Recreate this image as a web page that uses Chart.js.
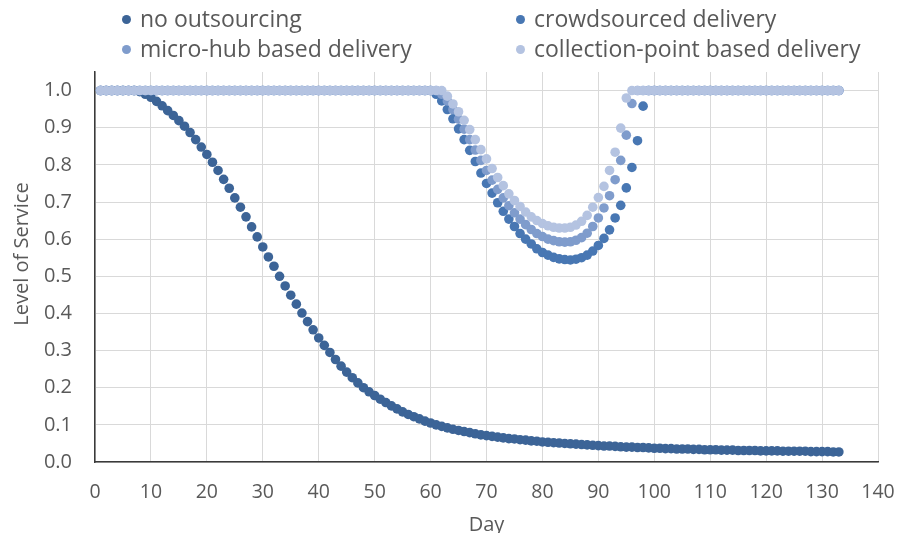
<!DOCTYPE html>
<html>
<head>
<meta charset="utf-8">
<script src="https://cdn.jsdelivr.net/npm/chart.js@4.4.1/dist/chart.umd.min.js"></script>
<style>
  html, body { margin: 0; padding: 0; background: #fff; overflow: hidden; }
  #wrap { position: relative; width: 897px; height: 545px; }
  #legend {
    position: absolute; left: 122px; top: 3px;
    display: grid; grid-template-columns: 394px auto; grid-auto-rows: 30px;
    font-family: 'Open Sans', sans-serif; font-size: 23px; color: #595959;
  }
  .item { display: flex; align-items: center; white-space: nowrap; }
  .dot { width: 9px; height: 9px; border-radius: 50%; margin: 3px 9px 0 0; }
  #ytitle {
    position: absolute; left: 21px; top: 254px; width: 200px; margin-left: -100px;
    text-align: center; line-height: 24px; margin-top: -12px;
    transform: rotate(-90deg);
    font-family: 'Open Sans', sans-serif; font-size: 20px; color: #595959;
    white-space: nowrap;
  }
</style>
</head>
<body>
<div id="wrap">
  <canvas id="chart" width="897" height="545"></canvas>
  <div id="legend"></div>
  <div id="ytitle">Level of Service</div>
</div>
<script>
const days = [
  1, 2, 3, 4, 5, 6, 7, 8, 9, 10,
  11, 12, 13, 14, 15, 16, 17, 18, 19, 20,
  21, 22, 23, 24, 25, 26, 27, 28, 29, 30,
  31, 32, 33, 34, 35, 36, 37, 38, 39, 40,
  41, 42, 43, 44, 45, 46, 47, 48, 49, 50,
  51, 52, 53, 54, 55, 56, 57, 58, 59, 60,
  61, 62, 63, 64, 65, 66, 67, 68, 69, 70,
  71, 72, 73, 74, 75, 76, 77, 78, 79, 80,
  81, 82, 83, 84, 85, 86, 87, 88, 89, 90,
  91, 92, 93, 94, 95, 96, 97, 98, 99, 100,
  101, 102, 103, 104, 105, 106, 107, 108, 109, 110,
  111, 112, 113, 114, 115, 116, 117, 118, 119, 120,
  121, 122, 123, 124, 125, 126, 127, 128, 129, 130,
  131, 132, 133
];

const noOutsourcing = [
  1, 1, 1, 1, 1, 1, 1, 0.997, 0.990, 0.982,
  0.971, 0.959, 0.946, 0.933, 0.919, 0.904, 0.887, 0.868, 0.848, 0.828,
  0.807, 0.785, 0.761, 0.737, 0.711, 0.686, 0.660, 0.633, 0.606, 0.579,
  0.552, 0.527, 0.500, 0.474, 0.449, 0.425, 0.401, 0.378, 0.356, 0.334,
  0.314, 0.295, 0.276, 0.258, 0.242, 0.227, 0.213, 0.200, 0.189, 0.179,
  0.169, 0.160, 0.151, 0.143, 0.135, 0.128, 0.122, 0.116, 0.110, 0.105,
  0.100, 0.096, 0.092, 0.088, 0.085, 0.082, 0.079, 0.076, 0.073, 0.071,
  0.069, 0.067, 0.065, 0.063, 0.062, 0.060, 0.059, 0.057, 0.056, 0.054,
  0.053, 0.052, 0.051, 0.050, 0.049, 0.048, 0.047, 0.046, 0.045, 0.044,
  0.043, 0.043, 0.042, 0.041, 0.040, 0.040, 0.039, 0.039, 0.038, 0.037,
  0.037, 0.036, 0.036, 0.035, 0.035, 0.035, 0.034, 0.034, 0.033, 0.033,
  0.033, 0.032, 0.032, 0.032, 0.031, 0.031, 0.031, 0.031, 0.030, 0.030,
  0.030, 0.030, 0.029, 0.029, 0.029, 0.029, 0.029, 0.028, 0.028, 0.028,
  0.028, 0.027, 0.027
];

const crowdsourced = [
  1, 1, 1, 1, 1, 1, 1, 1, 1, 1,
  1, 1, 1, 1, 1, 1, 1, 1, 1, 1,
  1, 1, 1, 1, 1, 1, 1, 1, 1, 1,
  1, 1, 1, 1, 1, 1, 1, 1, 1, 1,
  1, 1, 1, 1, 1, 1, 1, 1, 1, 1,
  1, 1, 1, 1, 1, 1, 1, 1, 1, 1,
  0.990, 0.972, 0.949, 0.924, 0.897, 0.868, 0.839, 0.809, 0.778, 0.750,
  0.724, 0.698, 0.675, 0.654, 0.634, 0.615, 0.600, 0.587, 0.574, 0.564,
  0.557, 0.551, 0.547, 0.545, 0.544, 0.546, 0.550, 0.557, 0.568, 0.583,
  0.602, 0.625, 0.657, 0.691, 0.738, 0.793, 0.865, 0.958, 1, 1,
  1, 1, 1, 1, 1, 1, 1, 1, 1, 1,
  1, 1, 1, 1, 1, 1, 1, 1, 1, 1,
  1, 1, 1, 1, 1, 1, 1, 1, 1, 1,
  1, 1, 1
];

const microHub = [
  1, 1, 1, 1, 1, 1, 1, 1, 1, 1,
  1, 1, 1, 1, 1, 1, 1, 1, 1, 1,
  1, 1, 1, 1, 1, 1, 1, 1, 1, 1,
  1, 1, 1, 1, 1, 1, 1, 1, 1, 1,
  1, 1, 1, 1, 1, 1, 1, 1, 1, 1,
  1, 1, 1, 1, 1, 1, 1, 1, 1, 1,
  1, 0.990, 0.972, 0.949, 0.923, 0.896, 0.868, 0.840, 0.812, 0.785,
  0.759, 0.734, 0.711, 0.690, 0.671, 0.654, 0.639, 0.626, 0.615, 0.607,
  0.600, 0.596, 0.593, 0.592, 0.593, 0.597, 0.604, 0.616, 0.634, 0.657,
  0.684, 0.717, 0.760, 0.812, 0.880, 0.965, 1, 1, 1, 1,
  1, 1, 1, 1, 1, 1, 1, 1, 1, 1,
  1, 1, 1, 1, 1, 1, 1, 1, 1, 1,
  1, 1, 1, 1, 1, 1, 1, 1, 1, 1,
  1, 1, 1
];

const collectionPoint = [
  1, 1, 1, 1, 1, 1, 1, 1, 1, 1,
  1, 1, 1, 1, 1, 1, 1, 1, 1, 1,
  1, 1, 1, 1, 1, 1, 1, 1, 1, 1,
  1, 1, 1, 1, 1, 1, 1, 1, 1, 1,
  1, 1, 1, 1, 1, 1, 1, 1, 1, 1,
  1, 1, 1, 1, 1, 1, 1, 1, 1, 1,
  1, 1, 0.985, 0.964, 0.943, 0.920, 0.895, 0.868, 0.841, 0.816,
  0.790, 0.766, 0.744, 0.722, 0.704, 0.688, 0.673, 0.660, 0.650, 0.642,
  0.636, 0.632, 0.630, 0.630, 0.632, 0.638, 0.648, 0.664, 0.686, 0.712,
  0.742, 0.785, 0.834, 0.899, 0.980, 1, 1, 1, 1, 1,
  1, 1, 1, 1, 1, 1, 1, 1, 1, 1,
  1, 1, 1, 1, 1, 1, 1, 1, 1, 1,
  1, 1, 1, 1, 1, 1, 1, 1, 1, 1,
  1, 1, 1
];

const seriesNames = ['no outsourcing', 'crowdsourced delivery', 'micro-hub based delivery', 'collection-point based delivery'];
const seriesData = [noOutsourcing, crowdsourced, microHub, collectionPoint];
const seriesColors = ['#3c6497', '#4877b3', '#7f9ccc', '#b4c3e1'];

const textColor = '#595959';
const font = "'Open Sans', sans-serif";

// legend as plain html, two columns like the original
const legend = document.getElementById('legend');
seriesNames.forEach(function(name, i) {
    const item = document.createElement('div');
    item.className = 'item';
    item.innerHTML = '<span class="dot" style="background:' + seriesColors[i] + '"></span>' + name;
    legend.appendChild(item);
});

const datasets = seriesData.map(function(values, i) {
    return {
        label: seriesNames[i],
        data: values.map(function(v, j) { return { x: days[j], y: v }; }),
        backgroundColor: seriesColors[i],
        borderColor: seriesColors[i],
        borderWidth: 0,
        pointRadius: 4.8,
        pointHoverRadius: 4.8,
        order: seriesData.length - i   // later series drawn on top
    };
});

new Chart(document.getElementById('chart').getContext('2d'), {
    type: 'scatter',
    data: { datasets: datasets },
    options: {
        responsive: false,
        animation: false,
        layout: { padding: { top: 72, right: 19, left: 0, bottom: 0 } },
        plugins: {
            legend: { display: false },
            tooltip: { enabled: false }
        },
        scales: {
            x: {
                type: 'linear',
                min: 0,
                max: 140,
                afterFit: function(scale) {
                    scale.height = 83;
                    scale.paddingLeft = 0;
                    scale.paddingRight = 0;
                },
                ticks: {
                    stepSize: 10,
                    padding: 19,
                    color: textColor,
                    font: { family: font, size: 19.5 }
                },
                grid: { color: '#d9d9d9', lineWidth: 1, drawTicks: false },
                border: { display: true, color: '#3a3a3a', width: 1.5 },
                title: {
                    display: true,
                    text: 'Day',
                    color: textColor,
                    font: { family: font, size: 20 },
                    padding: { top: 0, bottom: 8 }
                }
            },
            y: {
                min: 0,
                max: 1.05,
                afterFit: function(scale) { scale.width = 95; },
                ticks: {
                    stepSize: 0.1,
                    includeBounds: false,
                    padding: 23,
                    color: textColor,
                    font: { family: font, size: 20 },
                    callback: function(v) { return Number(v).toFixed(1); }
                },
                grid: { color: '#d9d9d9', lineWidth: 1, drawTicks: false },
                border: { display: true, color: '#3a3a3a', width: 1.5 }
            }
        }
    }
});
</script>
</body>
</html>
